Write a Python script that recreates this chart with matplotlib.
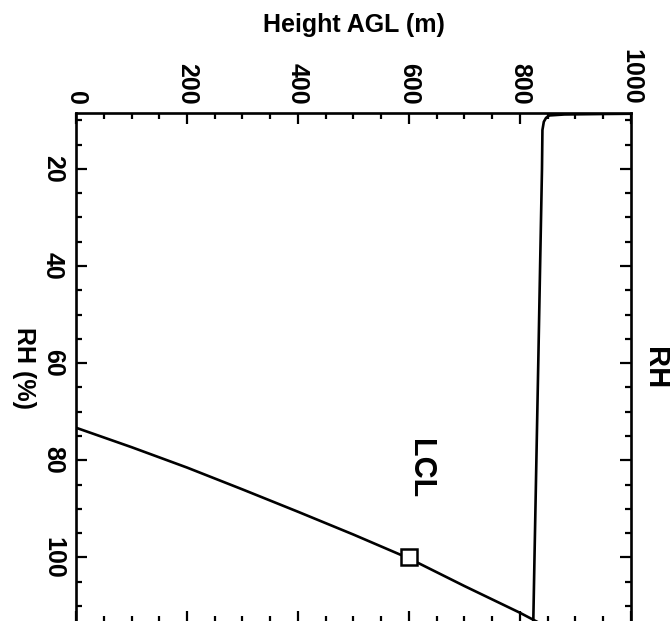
import numpy as np
import matplotlib
matplotlib.use("Agg")
import matplotlib.pyplot as plt
from matplotlib.ticker import MultipleLocator

plt.rcParams['font.family'] = ['Liberation Sans', 'DejaVu Sans']
plt.rcParams['font.weight'] = 'bold'

# RH profile (height AGL in m, RH in %)
rh_height = [824, 826.2, 829.6, 833, 836.3, 839.7, 840.5, 843, 847, 853, 880, 950, 1000]
rh_pct = [113.4, 100, 80, 60, 40, 20, 12, 10.3, 9.5, 9.0, 8.8, 8.7, 8.65]

# LCL curve
lcl_height = [0, 100, 200, 300, 400, 500, 600, 700, 800, 830]
lcl_rh = [73.3, 77.3, 81.5, 86.0, 90.6, 95.3, 100.2, 105.9, 111.4, 113.2]

# marked point on the LCL curve
mark_height = [600]
mark_rh = [100]

height_ticks = [0, 200, 400, 600, 800, 1000]
rh_ticks = [20, 40, 60, 80, 100]

fig = plt.figure(figsize=(6.71, 6.21), dpi=100)
# chart is shown rotated 90 deg clockwise: height runs along the top, RH down the left
ax = fig.add_axes([0.1133, -0.002, 0.827, 0.82])

ax.plot(rh_height, rh_pct, color="black", lw=1.9)
ax.plot(lcl_height, lcl_rh, color="black", lw=1.9)
ax.plot(mark_height, mark_rh, "s", ms=11, mfc="white", mec="black", mew=1.8)

ax.set_xlim(0, 1000)
ax.set_ylim(113.35, 8.5)

ax.xaxis.tick_top()
ax.xaxis.set_label_position("top")
ax.set_xticks(height_ticks)
ax.set_yticks(rh_ticks)
ax.xaxis.set_minor_locator(MultipleLocator(50))
ax.yaxis.set_minor_locator(MultipleLocator(5))

ax.tick_params(which="both", direction="in", top=True, bottom=True, left=True, right=True,
               width=1.6, labelsize=18)
ax.tick_params(which="major", length=8)
ax.tick_params(which="minor", length=4)
ax.tick_params(axis="x", labelrotation=-90, pad=6)
ax.tick_params(axis="y", labelrotation=-90, pad=8)
for lab in ax.get_yticklabels():
    lab.set_va("center")
for lab in ax.get_xticklabels():
    lab.set_ha("center")
    lab.set_va("bottom")

for sp in ax.spines.values():
    sp.set_linewidth(1.9)

ax.set_xlabel("Height AGL (m)", fontsize=18, fontweight="bold", va="center")
ax.xaxis.set_label_coords(0.5, 1.173)
ax.set_ylabel("RH (%)", fontsize=18, fontweight="bold", rotation=-90, ha="center", va="center")
ax.yaxis.set_label_coords(-0.094, 0.5)

ax.text(619, 81.8, "LCL", fontsize=22, fontweight="bold", rotation=-90, ha="center", va="center")
fig.text(655 / 671, 1 - 368 / 621, "RH", fontsize=21, fontweight="bold", rotation=-90,
         ha="center", va="center")

fig.savefig("out.png", dpi=100)
